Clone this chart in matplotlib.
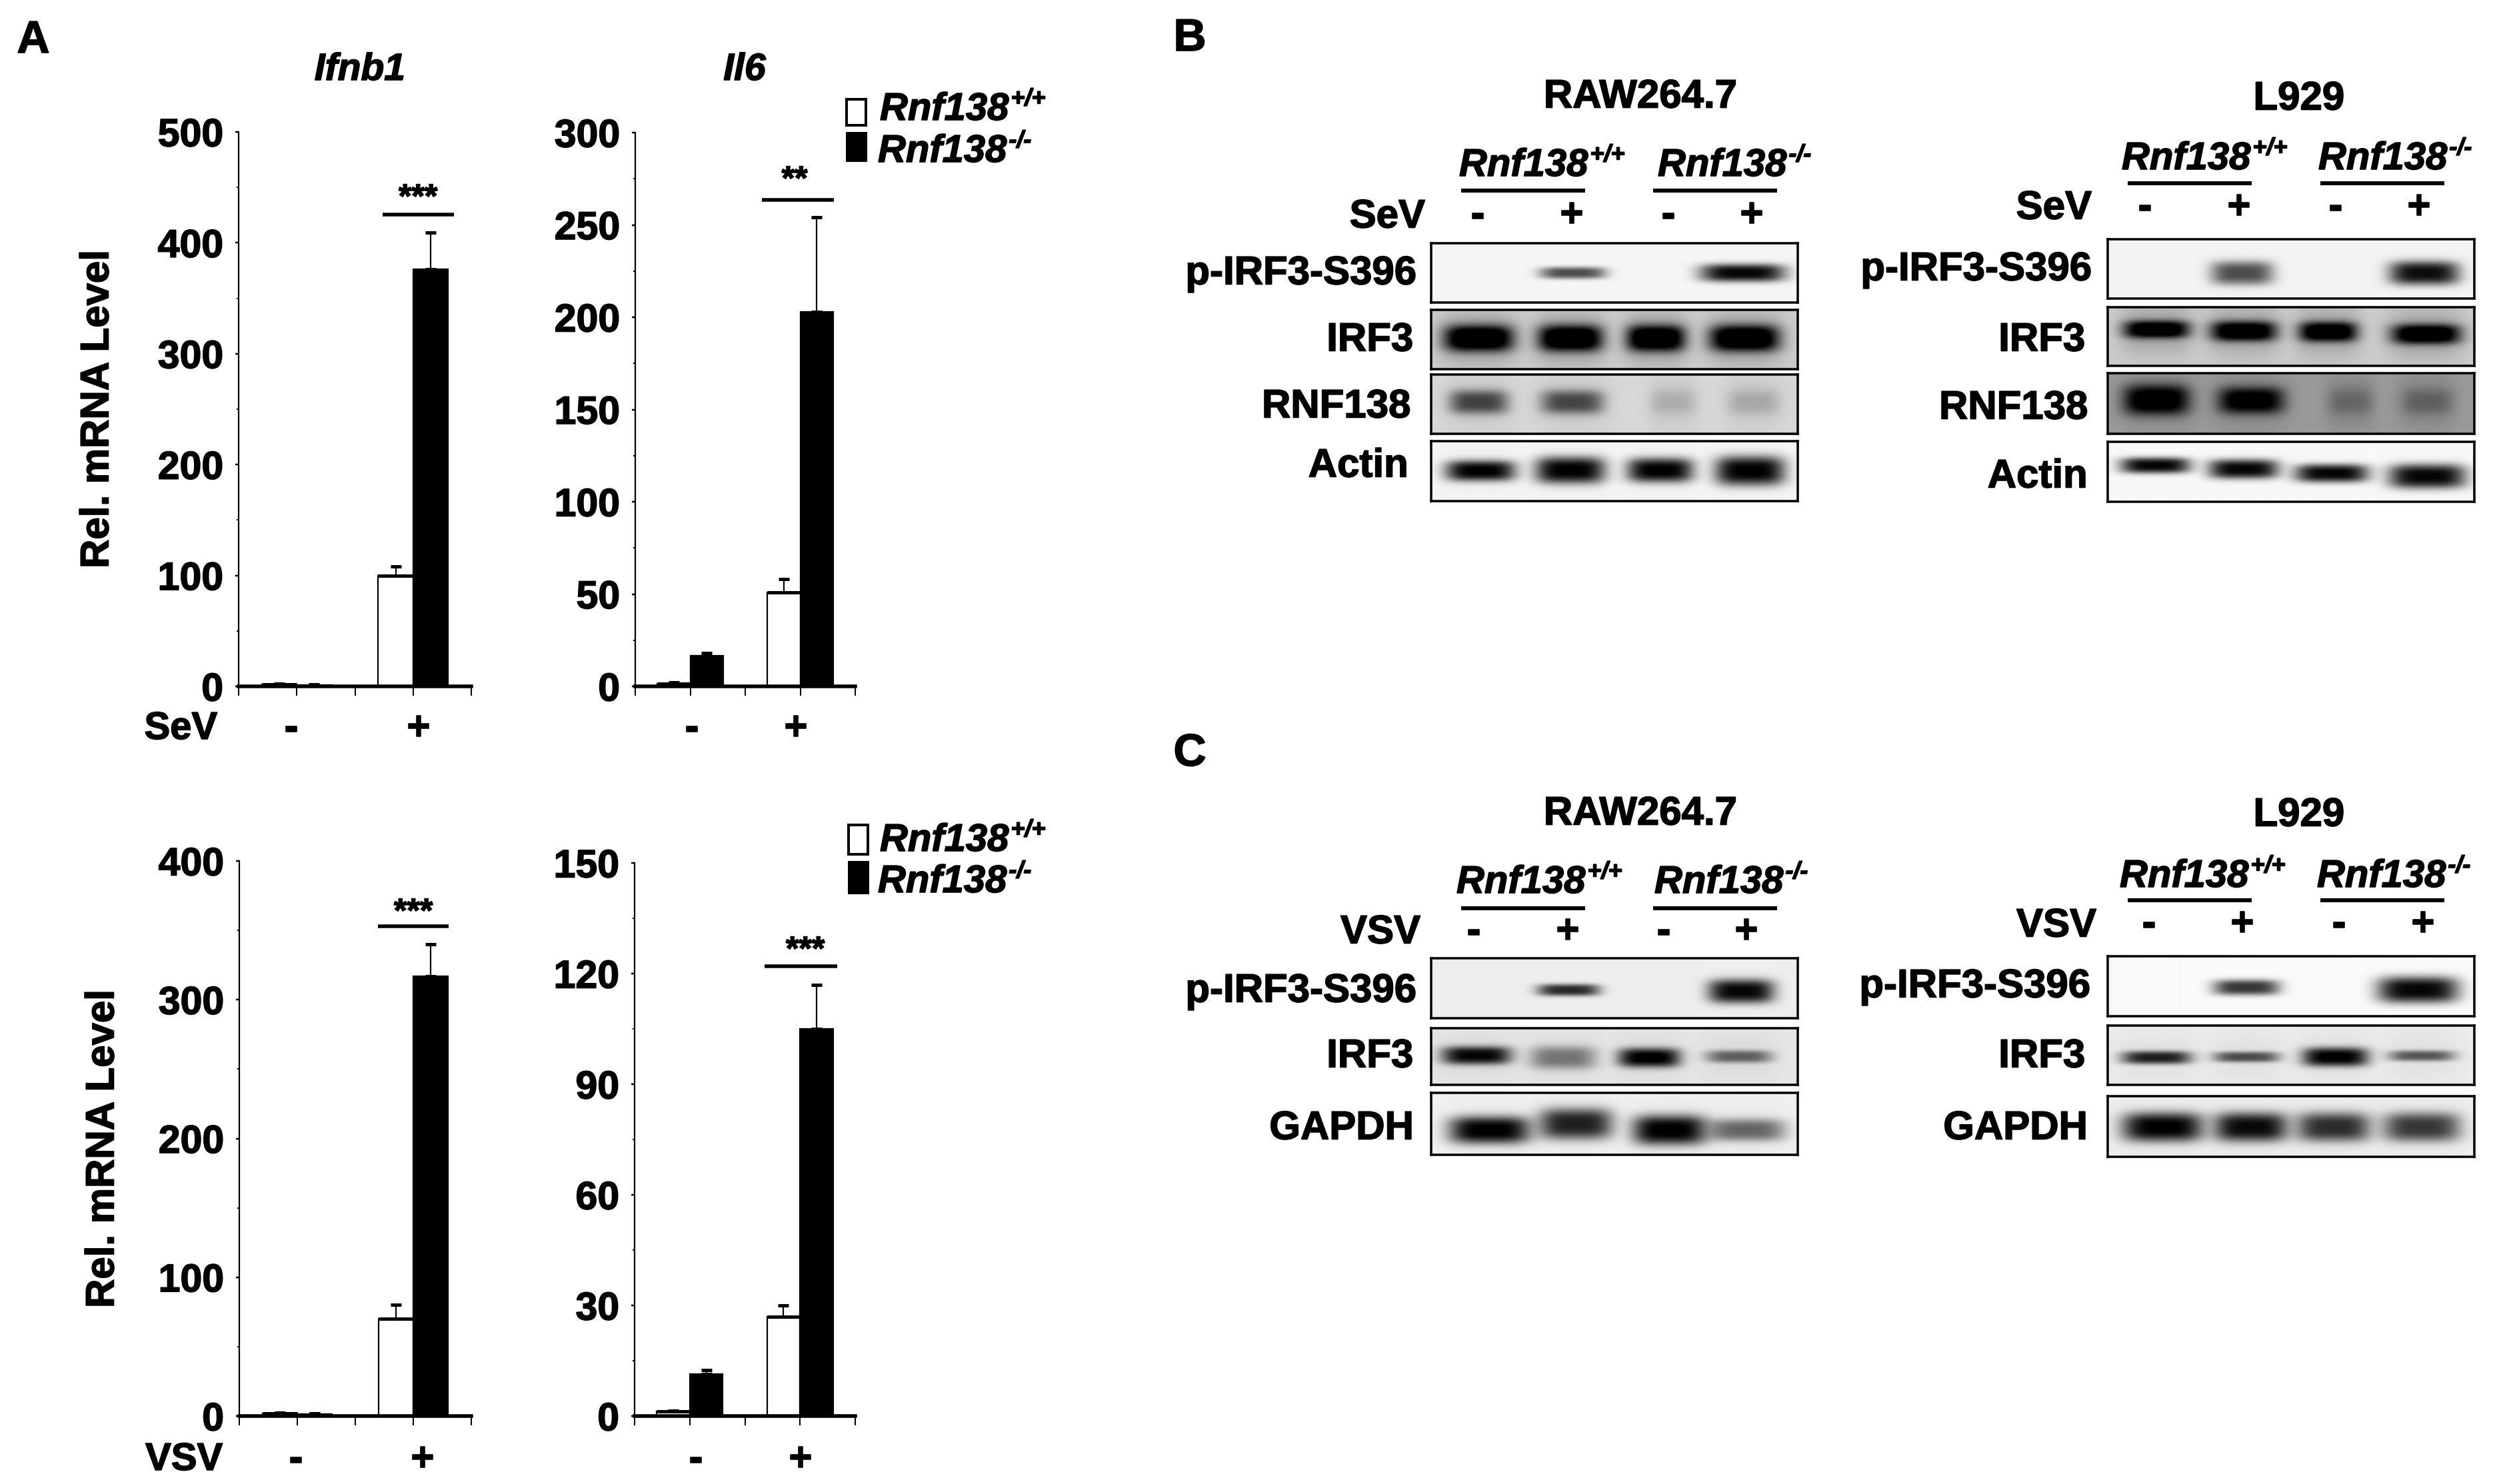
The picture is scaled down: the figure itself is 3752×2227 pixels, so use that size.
import numpy as np
import matplotlib
matplotlib.use("Agg")
import matplotlib.pyplot as plt
import matplotlib.patheffects as pe
from matplotlib.patches import Rectangle
from matplotlib.lines import Line2D

W, H, DPI = 3752, 2227, 100
plt.rcParams['font.family'] = ['Liberation Sans', 'DejaVu Sans']
plt.rcParams['font.weight'] = 'bold'

# ---- bar data ----
groups = [1, 2]
sev_ifnb1_wt = [2, 100];  sev_ifnb1_wt_err = [0.5, 8]
sev_ifnb1_ko = [1.5, 376]; sev_ifnb1_ko_err = [0.5, 33]
sev_il6_wt = [1.5, 51];   sev_il6_wt_err = [0.5, 7]
sev_il6_ko = [16.5, 203]; sev_il6_ko_err = [1.5, 51]
vsv_ifnb1_wt = [2, 70];   vsv_ifnb1_wt_err = [0.5, 10]
vsv_ifnb1_ko = [1.5, 317]; vsv_ifnb1_ko_err = [0.3, 23]
vsv_il6_wt = [1.2, 27];   vsv_il6_wt_err = [0.3, 3]
vsv_il6_ko = [11.4, 105]; vsv_il6_ko_err = [1, 12]

ticks_a = [0, 100, 200, 300, 400, 500]
ticks_b = [0, 50, 100, 150, 200, 250, 300]
ticks_c = [0, 100, 200, 300, 400]
ticks_d = [0, 30, 60, 90, 120, 150]

# ---- blot band estimates: lane centre, half width, band y, half height, darkness (fractions) ----
b_raw_p = dict(bg=.96, smear=0, cx=[.387, .85], w=[.09, .115], y=[.5, .5], h=[.1, .15], dark=[.7, 1])
b_raw_i = dict(bg=.80, smear=.25, cx=[.13, .38, .613, .855], w=[.095, .088, .08, .095], y=[.48] * 4, h=[.22] * 4, dark=[1, 1, 1, 1])
b_raw_r = dict(bg=.84, smear=.08, cx=[.13, .385, .66, .88], w=[.08, .085, .06, .07], y=[.465] * 4, h=[.2] * 4, dark=[.62, .6, .1, .13])
b_raw_a = dict(bg=.96, smear=.03, cx=[.135, .38, .625, .87], w=[.095, .095, .09, .095], y=[.5, .49, .49, .5], h=[.17, .22, .2, .24], dark=[1, 1, 1, 1])
b_l_p = dict(bg=.95, smear=0, cx=[.366, .862], w=[.085, .095], y=[.57, .57], h=[.2, .2], dark=[.7, .97])
b_l_i = dict(bg=.80, smear=.2, cx=[.133, .37, .6, .867], w=[.09, .09, .08, .095], y=[.38, .41, .42, .46], h=[.15, .17, .17, .17], dark=[1, 1, 1, 1])
b_l_r = dict(bg=.60, smear=.12, cx=[.133, .39, .66, .87], w=[.09, .09, .06, .07], y=[.44, .45, .47, .47], h=[.25, .22, .2, .2], dark=[1, .95, .14, .18])
b_l_a = dict(bg=.97, smear=0, cx=[.13, .37, .61, .87], w=[.095, .095, .1, .105], y=[.4, .46, .53, .58], h=[.13, .16, .15, .2], dark=[1, 1, 1, 1])
c_raw_p = dict(bg=.93, smear=0, cx=[.375, .846], w=[.085, .09], y=[.53, .55], h=[.1, .2], dark=[.85, 1])
c_raw_i = dict(bg=.90, smear=.05, cx=[.124, .36, .595, .84], w=[.095, .09, .085, .09], y=[.48, .52, .52, .5], h=[.16, .2, .17, .11], dark=[.95, .45, 1, .55])
c_raw_g = dict(bg=.94, smear=.04, cx=[.16, .395, .65, .86], w=[.11, .1, .1, .105], y=[.6, .5, .6, .6], h=[.22, .25, .24, .18], dark=[1, .85, 1, .55])
c_l_p = dict(bg=.98, smear=0, cx=[.378, .845], w=[.09, .11], y=[.52, .56], h=[.13, .22], dark=[.8, 1])
c_l_i = dict(bg=.92, smear=.04, cx=[.133, .378, .62, .855], w=[.095, .09, .09, .09], y=[.54, .53, .53, .51], h=[.11, .09, .16, .09], dark=[.85, .65, 1, .6])
c_l_g = dict(bg=.93, smear=.03, cx=[.15, .39, .615, .855], w=[.11, .1, .1, .105], y=[.51, .51, .51, .51], h=[.24, .24, .24, .24], dark=[1, .95, .8, .75])

fig = plt.figure(figsize=(W / DPI, H / DPI), dpi=DPI, facecolor='white')
PX = 72 / DPI
BOLD = [pe.withStroke(linewidth=1.6 * PX, foreground='black')]


def fx(x):
    return x / W


def fy(y):
    return 1 - y / H


def label(x, y, s, px=60, ha='center', rot=0, style='normal'):
    return fig.text(fx(x), fy(y), s, fontsize=px * PX, ha=ha, va='center', rotation=rot,
                    fontweight='bold', fontstyle=style, color='black', path_effects=BOLD)


def gene(x, y, suffix, px=58):
    t = label(x, y, 'Rnf138', px, ha='left', style='italic')
    box = t.get_window_extent(fig.canvas.get_renderer())
    label(box.x1 + 3, y - px * 0.28, suffix, px * 0.62, ha='left', style='italic')


def hbar(x0, x1, y, lw=6):
    fig.add_artist(Line2D([fx(x0), fx(x1)], [fy(y), fy(y)], color='black', lw=lw * PX,
                          solid_capstyle='butt'))


def chart(box, wt, wt_err, ko, ko_err, ticks, bw, sig, stars, star_xy):
    x0, x1, ytop, ybot = box
    ax = fig.add_axes([fx(x0), fy(ybot), (x1 - x0) / W, (ybot - ytop) / H])
    xs = np.array(groups, float)
    for x, v, e in zip(xs - bw / 2, wt, wt_err):
        ax.bar(x, v, bw, color='white', edgecolor='black', linewidth=2.2 * PX, zorder=2)
        ax.hlines(v, x - bw / 2, x + bw / 2, color='black', lw=5 * PX, zorder=3)
        ax.errorbar(x, v, yerr=[[0], [e]], color='black', elinewidth=2.2 * PX, capsize=8 * PX,
                    capthick=5 * PX, zorder=1)
    for x, v, e in zip(xs + bw / 2, ko, ko_err):
        ax.bar(x, v, bw, color='black', edgecolor='black', linewidth=2.2 * PX, zorder=2)
        ax.errorbar(x, v, yerr=[[0], [e]], color='black', elinewidth=2.2 * PX, capsize=8 * PX,
                    capthick=5 * PX, zorder=1)
    ax.set_xlim(0.5, 2.5)
    ax.set_ylim(0, ticks[-1])
    ax.set_yticks(ticks)
    ax.set_yticks([(a + b) / 2 for a, b in zip(ticks[:-1], ticks[1:])], minor=True)
    ax.set_xticks([0.5, 1, 1.5, 2, 2.5])
    ax.set_xticklabels([])
    ax.tick_params(axis='y', which='major', length=5 * PX, width=2.5 * PX, pad=18 * PX, labelsize=59 * PX)
    ax.tick_params(axis='y', which='minor', length=3 * PX, width=2 * PX)
    ax.tick_params(axis='x', length=14 * PX, width=2 * PX)
    for lab in ax.get_yticklabels():
        lab.set_path_effects(BOLD)
    for s in ('top', 'right'):
        ax.spines[s].set_visible(False)
    ax.spines['left'].set_linewidth(2.2 * PX)
    ax.spines['bottom'].set_linewidth(5.5 * PX)
    ax.patch.set_alpha(0)
    ax.plot(sig[:2], [sig[2]] * 2, color='black', lw=5.5 * PX, solid_capstyle='butt', clip_on=False)
    label(star_xy[0], star_xy[1] + 8, stars, px=50)
    return ax


chart((358, 707, 198, 1030), sev_ifnb1_wt, sev_ifnb1_wt_err, sev_ifnb1_ko, sev_ifnb1_ko_err, ticks_a,
      0.30, (1.735, 2.349, 425.5), '***', (627, 290))
chart((953, 1283, 199, 1030), sev_il6_wt, sev_il6_wt_err, sev_il6_ko, sev_il6_ko_err, ticks_b,
      0.30, (1.65, 2.306, 263.7), '**', (1192, 263))
chart((359, 707, 1292, 2125), vsv_ifnb1_wt, vsv_ifnb1_wt_err, vsv_ifnb1_ko, vsv_ifnb1_ko_err, ticks_c,
      0.30, (1.693, 2.307, 353), '***', (620, 1362))
chart((952, 1283, 1295, 2125), vsv_il6_wt, vsv_il6_wt_err, vsv_il6_ko, vsv_il6_ko_err, ticks_d,
      0.30, (1.68, 2.338, 122), '***', (1208, 1419))

label(50, 61, 'A', 68)
label(1785, 58, 'B', 68)
label(1785, 1131, 'C', 68)
label(540, 105, 'Ifnb1', 57, style='italic')
label(1117, 105, 'Il6', 57, style='italic')
label(147, 614, 'Rel. mRNA Level', 60, rot=90)
label(155, 1724, 'Rel. mRNA Level', 60, rot=90)
for s, xr, y, signs in [('SeV', 326, 1094, [437, 628, 1038, 1194]), ('VSV', 334, 2191, [444, 634, 1044, 1201])]:
    label(xr, y, s, 58, ha='right')
    for xs_, c in zip(signs, '-+-+'):
        label(xs_, y, c, 60)

for (wy, ky, ty, tk, xs_) in [(149, 199, 165, 228, 1268), (1238, 1293, 1262, 1324, 1271)]:
    h0 = ky - wy - 11
    fig.add_artist(Rectangle((fx(xs_ + 2), fy(wy + h0)), 29 / W, h0 / H, transform=fig.transFigure,
                             facecolor='white', edgecolor='black', lw=4 * PX))
    fig.add_artist(Rectangle((fx(xs_ + 2), fy(ky + h0 + 3)), 29 / W, (h0 + 3) / H, transform=fig.transFigure,
                             facecolor='black', edgecolor='black', lw=3 * PX))
    gene(1320, ty, '+/+', 58)
    gene(1317, tk, '-/-', 58)


def blot(box, spec):
    x0, x1, y0, y1 = box
    nx, ny = int(x1 - x0), int(y1 - y0)
    xx, yy = np.meshgrid((np.arange(nx) + .5) / nx, (np.arange(ny) + .5) / ny)
    img = np.full((ny, nx), float(spec['bg']))
    for cx, w, y, h, d in zip(spec['cx'], spec['w'], spec['y'], spec['h'], spec['dark']):
        core = np.exp(-((xx - cx) / w) ** 4) * np.exp(-np.abs((yy - y) / h) ** 3)
        halo = np.exp(-((xx - cx) / (w * 1.1)) ** 4) * np.exp(-((yy - y) / .4) ** 2)
        img = img * (1 - d * .98 * core) - spec['smear'] * halo
    ax = fig.add_axes([fx(x0), fy(y1), (x1 - x0) / W, (y1 - y0) / H])
    ax.imshow(np.clip(img, 0, 1), cmap='gray', vmin=0, vmax=1, aspect='auto', interpolation='bilinear')
    ax.set_xticks([])
    ax.set_yticks([])
    for s in ax.spines.values():
        s.set_linewidth(3.5 * PX)


RX = (2147, 2697)
LX = (3162, 3712)
for ys, sp in zip([(365, 454), (465, 554), (562, 651), (662, 752)], [b_raw_p, b_raw_i, b_raw_r, b_raw_a]):
    blot((*RX, *ys), sp)
for ys, sp in zip([(359, 448), (461, 549), (560, 651), (663, 753)], [b_l_p, b_l_i, b_l_r, b_l_a]):
    blot((*LX, *ys), sp)
for ys, sp in zip([(1438, 1528), (1543, 1628), (1640, 1733)], [c_raw_p, c_raw_i, c_raw_g]):
    blot((*RX, *ys), sp)
for ys, sp in zip([(1435, 1525), (1539, 1628), (1645, 1736)], [c_l_p, c_l_i, c_l_g]):
    blot((*LX, *ys), sp)

for s, x, y in [('p-IRF3-S396', 2125, 411), ('IRF3', 2120, 511), ('RNF138', 2116, 611), ('Actin', 2113, 700),
                ('p-IRF3-S396', 3138, 405), ('IRF3', 3128, 511), ('RNF138', 3132, 613), ('Actin', 3132, 716),
                ('p-IRF3-S396', 2125, 1488), ('IRF3', 2120, 1586), ('GAPDH', 2121, 1694),
                ('p-IRF3-S396', 3136, 1481), ('IRF3', 3128, 1586), ('GAPDH', 3132, 1694),
                ('SeV', 2138, 326), ('SeV', 3138, 313), ('VSV', 2131, 1400), ('VSV', 3145, 1390)]:
    label(x, y, s, 60, ha='right')

for s, x, y in [('RAW264.7', 2461, 146), ('L929', 3449, 149), ('RAW264.7', 2461, 1222), ('L929', 3449, 1224)]:
    label(x, y, s, 60)

for x, y, s in [(2189, 249, '+/+'), (2487, 249, '-/-'), (3183, 239, '+/+'), (3478, 239, '-/-'),
                (2185, 1325, '+/+'), (2482, 1325, '-/-'), (3180, 1316, '+/+'), (3476, 1316, '-/-')]:
    gene(x, y, s, 58)

for (a, b, c, d, y) in [(2192, 2378, 2480, 2666, 286), (3192, 3378, 3481, 3667, 275),
                        (2192, 2378, 2480, 2666, 1363), (3192, 3378, 3481, 3667, 1351)]:
    hbar(a, b, y)
    hbar(c, d, y)

for xs_, y in [((2217, 2358, 2503, 2628), 324), ((3218, 3359, 3504, 3629), 312),
               ((2211, 2352, 2496, 2620), 1399), ((3224, 3364, 3509, 3635), 1388)]:
    for x, c in zip(xs_, '-+-+'):
        label(x, y, c, 60)

fig.savefig('out.png', dpi=DPI, facecolor='white')
